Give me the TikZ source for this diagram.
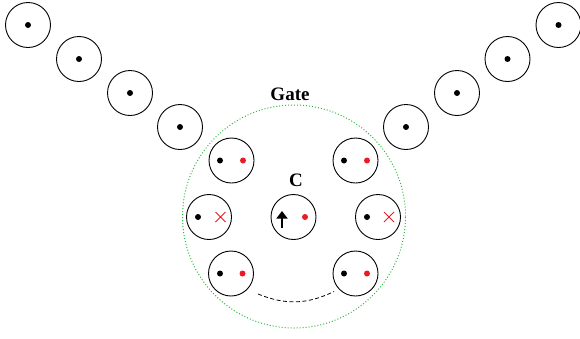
\documentclass[tikz,border=0pt]{standalone}
\usepackage{fontspec}
\setmainfont{Liberation Serif}
\usetikzlibrary{calc,arrows.meta}
\definecolor{gatecol}{RGB}{45,185,60}
\definecolor{spinred}{RGB}{232,28,36}
\begin{document}
\begin{tikzpicture}[x=1pt,y=-1pt,
  site/.style={circle,draw=black,line width=0.9pt,minimum size=45pt,inner sep=0pt},
  bdot/.style={circle,fill=black,minimum size=6pt,inner sep=0pt},
  rdot/.style={circle,fill=spinred,minimum size=6pt,inner sep=0pt},
  lbl/.style={font=\fontsize{19}{19}\selectfont\bfseries,inner sep=0pt}]
\useasboundingbox (0,0) rectangle (580,338);
% gate region
\node[circle,draw=gatecol,dotted,line width=1pt,minimum size=223pt,inner sep=0pt] (gate) at (294,216.5) {};
\node[lbl] (gatelbl) at (290,94.5) {Gate};
% left chain
\foreach \n/\px/\py in {l1/28/25, l2/79/59, l3/130/93, l4/180/127}{
  \node[site] (\n) at (\px,\py) {};
  \node[bdot] (\n-d) at (\n) {};
}
% right chain
\foreach \n/\px/\py in {r1/558.5/25, r2/507.5/59, r3/457/93, r4/406/127}{
  \node[site] (\n) at (\px,\py) {};
  \node[bdot] (\n-d) at (\n) {};
}
% sites inside the gate
\node[site] (tl) at (231.5,160.5) {};
\node[bdot] (tl-b) at (220,160.5) {};
\node[rdot] (tl-r) at (243,160.5) {};
\node[site] (tr) at (355.5,160.5) {};
\node[bdot] (tr-b) at (344,160.5) {};
\node[rdot] (tr-r) at (367,160.5) {};
\node[site] (ml) at (209,217) {};
\node[bdot] (ml-b) at (198,217) {};
\node[site] (mr) at (378,217) {};
\node[bdot] (mr-b) at (367,217) {};
\foreach \c/\cx in {mlx/220.5, mrx/389}{
  \coordinate (\c) at (\cx,217);
  \draw[spinred,line width=0.9pt] ($(\c)+(-5,-5)$) -- ($(\c)+(5,5)$) ($(\c)+(-5,5)$) -- ($(\c)+(5,-5)$);
}
\node[site] (cc) at (293.5,217) {};
\node[lbl] (clbl) at (296,180) {C};
\node[rdot] (cc-r) at (305,217) {};
\coordinate (arrbase) at (282,227.5);
\coordinate (arrtip) at (282,211);
\draw[line width=1.7pt,-{Triangle[width=11pt,length=7.5pt]}] (arrbase) -- (arrtip);
\node[site] (bl) at (231,273.5) {};
\node[bdot] (bl-b) at (220,273.5) {};
\node[rdot] (bl-r) at (242.5,273.5) {};
\node[site] (br) at (355.5,273.5) {};
\node[bdot] (br-b) at (344,273.5) {};
\node[rdot] (br-r) at (367,273.5) {};
% dashed link between the lower sites
\coordinate (linkL) at ($(bl)+(27,20.5)$);
\coordinate (linkR) at ($(br)+(-21.5,18)$);
\draw[line width=0.8pt,dash pattern=on 4pt off 2.5pt] (linkL) to[bend right=24] (linkR);
\end{tikzpicture}
\end{document}
